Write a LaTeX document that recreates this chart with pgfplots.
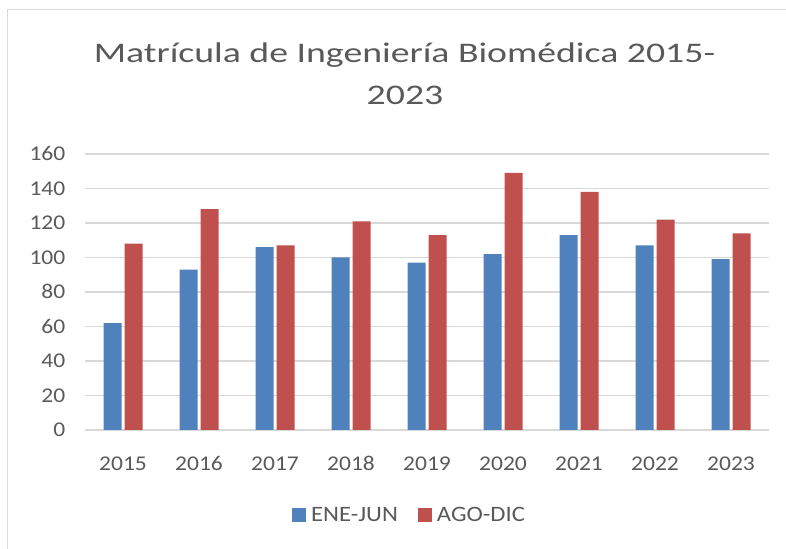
\documentclass[border=0pt]{standalone}
\usepackage{graphicx}
\usepackage{pgfplots}
\pgfplotsset{compat=1.18}
\usepackage{fontspec}
\setmainfont{Carlito}
\definecolor{bblue}{HTML}{4F81BD}
\definecolor{bred}{HTML}{C0504D}
\definecolor{txt}{HTML}{595959}
\definecolor{gridc}{HTML}{D9D9D9}
\definecolor{framec}{HTML}{D9D9D9}
\newcommand\sx[1]{\scalebox{1.12}[1]{#1}}
\newcommand\st[1]{\scalebox{1.33}[1]{#1}}
\begin{document}
\begin{tikzpicture}[x=1bp,y=1bp]
\useasboundingbox (0,0) rectangle (786,549);
\draw[framec, line width=1.2bp] (7.5,0) -- (7.5,539.5) -- (786,539.5);
\node[anchor=base, text=txt, font=\fontsize{28.4bp}{34bp}\selectfont, inner sep=0pt] at (404.5,486) {\st{Matrícula de Ingeniería Biomédica 2015-}};
\node[anchor=base, text=txt, font=\fontsize{28.4bp}{34bp}\selectfont, inner sep=0pt] at (405,444.5) {\st{2023}};
\begin{axis}[
  at={(85bp,119bp)}, anchor=south west,
  width=684bp, height=276bp, scale only axis,
  ybar=3bp, bar width=18bp,
  ymin=0, ymax=160, ytick={0,20,...,160},
  xmin=-0.5, xmax=8.5, xtick={0,...,8},
  xticklabels={\sx{2015},\sx{2016},\sx{2017},\sx{2018},\sx{2019},\sx{2020},\sx{2021},\sx{2022},\sx{2023}},
  yticklabel={\sx{\pgfmathprintnumber{\tick}}},
  axis line style={draw=none},
  major tick length=0pt,
  ymajorgrids, grid style={gridc, line width=1.5bp},
  /pgf/number format/assume math mode=true,
  yticklabel style={font=\fontsize{21bp}{25bp}\selectfont, text=txt, inner sep=0pt, xshift=-19.5bp, text height=13.3bp, text depth=0pt},
  xticklabel style={font=\fontsize{21bp}{25bp}\selectfont, text=txt, inner sep=0pt, anchor=base, yshift=-40.5bp},
  legend style={at={(0.4745,-0.308)}, anchor=center, draw=none, fill=none,
    font=\fontsize{22bp}{26bp}\selectfont, text=txt, legend columns=2,
    /tikz/every odd column/.append style={column sep=3bp},
    /tikz/every even column/.append style={column sep=18bp}},
  legend image code/.code={\fill[#1] (0bp,-7bp) rectangle (14bp,7bp);},
]
\addplot[fill=bblue, draw=none] coordinates {(0,62) (1,93) (2,106) (3,100) (4,97) (5,102) (6,113) (7,107) (8,99)};
\addplot[fill=bred, draw=none] coordinates {(0,108) (1,128) (2,107) (3,121) (4,113) (5,149) (6,138) (7,122) (8,114)};
\legend{\sx{ENE-JUN}, \sx{AGO-DIC}}
\end{axis}
\end{tikzpicture}
\end{document}
